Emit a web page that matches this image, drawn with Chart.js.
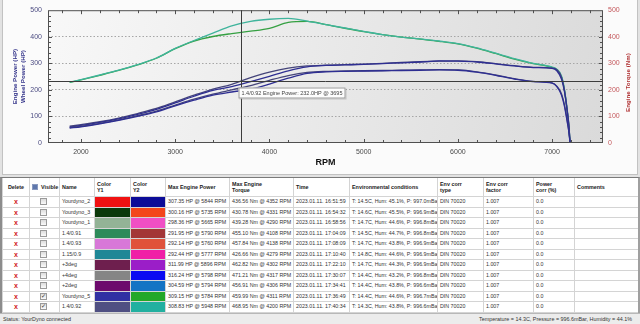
<!DOCTYPE html>
<html>
<head>
<meta charset="utf-8">
<title>YourDyno</title>
<script src="https://cdn.jsdelivr.net/npm/chart.js@4.4.1/dist/chart.umd.min.js"></script>
<style>
  body { margin: 0; width: 640px; height: 324px; overflow: hidden; background: #e2e2e2;
         font-family: "Liberation Sans", Arial, sans-serif; position: relative; }
  #chartPanel { position: absolute; left: 2px; top: 0; width: 636px; height: 175px;
                background: #fbfbfb; border: 1px solid #c2c2c2; border-top: none; box-sizing: border-box; }
  #myChart { position: absolute; left: 0; top: 0; }
  #tableWrap { position: absolute; left: 0; top: 177px; width: 640px; height: 136px; background: #fff;
               border-left: 2px solid #8c8c8c; border-right: 2px solid #a0a0a0; border-top: 1px solid #7a7a7a;
               box-sizing: border-box; overflow: hidden; }
  #runTable { border-collapse: collapse; table-layout: fixed; width: 638px; font-size: 5.3px; color: #333; }
  #runTable th, #runTable td { border: 1px solid #d4d4d4; padding: 0 0 0 2px; white-space: nowrap;
                               overflow: hidden; text-align: left; vertical-align: middle; }
  #runTable th { height: 18px; font-weight: bold; font-size: 5.4px; color: #222; line-height: 6.2px; border-top: none; }
  #runTable td { height: 9.5px; line-height: 9px; }
  #runTable .del { text-align: center; color: #d01818; font-weight: bold; font-size: 7px; padding: 0; }
  #runTable th.del { color: #222; font-size: 5.4px; }
  #runTable td.sw { padding: 0; }
  .cb { display: inline-block; width: 5px; height: 5px; border: 1px solid #9a9a9a; vertical-align: middle;
        background: linear-gradient(#dcdcdc, #fafafa); position: relative; margin-left: 10px; }
  .cb.on::after { content: "\2713"; position: absolute; left: 0; top: -2px; font-size: 6px; color: #333; }
  .hcb { display: inline-block; width: 4px; height: 4px; background: #5f78ad; border: 1px solid #8a9ac0;
         vertical-align: middle; margin-right: 3px; }
  #status { position: absolute; left: 0; top: 313px; width: 640px; height: 11px; background: #ececec;
            border-top: 1px solid #b8b8b8; box-sizing: border-box; font-size: 5.4px; color: #333; line-height: 10px; }
  #status .l { position: absolute; left: 3px; }
  #status .r { position: absolute; right: 8px; }
</style>
</head>
<body>
<div id="chartPanel"></div>
<canvas id="myChart" width="640" height="172"></canvas>
<div id="tableWrap">
  <table id="runTable">
    <colgroup>
      <col style="width:27px"><col style="width:30px"><col style="width:35px"><col style="width:36px">
      <col style="width:35px"><col style="width:64px"><col style="width:64px"><col style="width:56px">
      <col style="width:88px"><col style="width:46px"><col style="width:50px"><col style="width:41px">
      <col style="width:66px">
    </colgroup>
    <thead>
      <tr>
        <th class="del">Delete</th><th><span class="hcb"></span>Visible</th><th>Name</th>
        <th>Color<br>Y1</th><th>Color<br>Y2</th><th>Max Engine Power</th><th>Max Engine<br>Torque</th>
        <th>Time</th><th>Environmental conditions</th><th>Env corr<br>type</th><th>Env corr<br>factor</th>
        <th>Power<br>corr (%)</th><th>Comments</th>
      </tr>
    </thead>
    <tbody></tbody>
  </table>
</div>
<div id="status"><span class="l">Status: YourDyno connected</span><span class="r">Temperature = 14.3C, Pressure = 996.6mBar, Humidity = 44.1%</span></div>
<script>
// sweep rpm shared by every plotted run
const rpm = [1880, 2000, 2200, 2400, 2600, 2800, 3000, 3200, 3400, 3600, 3800, 4000, 4200, 4400, 4600, 4800,
             5000, 5200, 5400, 5600, 5800, 6000, 6200, 6400, 6600, 6800, 7000, 7050, 7100, 7130, 7160, 7180, 7190];

// Yourdyno_5
const dyno5EnginePower = [60, 66, 78, 91, 108, 127, 151, 176, 198, 212, 231, 251, 272, 287, 292, 294,
                          296, 299, 302, 305, 309, 308, 305, 298, 290, 284, 281, 272, 240, 195, 120, 55, 0];
const dyno5WheelPower = [56, 61, 72, 85, 100, 117, 140, 161, 180, 192, 203, 222, 244, 262, 268, 270,
                         271, 272, 273, 274, 275, 274, 267, 255, 241, 231, 225, 212, 180, 140, 80, 35, 0];
const dyno5Torque = [228, 238, 255, 273, 294, 319, 355, 384, 401, 412, 421, 432, 454, 458, 446, 432,
                     419, 408, 399, 391, 383, 373, 357, 337, 316, 299, 285, 276, 248, 200, 120, 50, 0];

// 1.4/0.92
const run092EnginePower = [63, 69, 80, 94, 111, 130, 155, 180, 203, 221, 246, 267, 282, 290, 293, 295,
                           297, 300, 303, 306, 308, 309, 306, 299, 291, 285, 282, 276, 248, 200, 125, 60, 0];
const run092WheelPower = [58, 63, 74, 87, 103, 120, 143, 165, 184, 200, 216, 236, 254, 266, 270, 271,
                          272, 273, 274, 275, 276, 275, 268, 256, 242, 232, 226, 214, 185, 145, 85, 38, 0];
const run092Torque = [229, 239, 256, 274, 295, 320, 356, 386, 414, 441, 458, 466, 469, 459, 446, 433,
                      420, 408, 399, 392, 384, 374, 358, 338, 318, 300, 286, 278, 252, 205, 125, 55, 0];

const yTicks = [0, 100, 200, 300, 400, 500];
const rpmTicks = [2000, 3000, 4000, 5000, 6000, 7000];

// cursor readout
const cursorRun = '1.4/0.92';
const cursorRpm = 3695;
const cursorPower = 232.0;

// run list
const runNames = ['Yourdyno_2', 'Yourdyno_3', 'Yourdyno_1', '1.4/0.91', '1.4/0.93', '1.15/0.9', '+3deg', '+4deg', '+2deg', 'Yourdyno_5', '1.4/0.92'];
const runVisible = [false, false, false, false, false, false, false, false, false, true, true];
const colorY1 = ['#f01212', '#0b3a0b', '#93b396', '#2e8b5a', '#d878d8', '#1f8796', '#6e1f4e', '#858585', '#6c0a6c', '#3131a3', '#4f4f82'];
const colorY2 = ['#0c0c98', '#f3461a', '#f04fc4', '#a33636', '#e0523a', '#f01fa6', '#9b1ec8', '#0a0af2', '#1474c4', '#22a828', '#22b0a0'];
const maxPower = ['307.35', '300.16', '298.36', '291.95', '292.14', '292.44', '311.99', '316.24', '304.59', '309.15', '308.83'];
const maxPowerRpm = [5844, 5735, 5665, 5790, 5760, 5777, 5896, 5798, 5794, 5784, 5948];
const maxTorque = ['436.56', '430.78', '439.28', '455.10', '457.84', '426.66', '462.82', '471.21', '456.91', '459.99', '468.95'];
const maxTorqueRpm = [4352, 4331, 4290, 4108, 4138, 4279, 4302, 4317, 4306, 4311, 4200];
const runTimes = ['16:51:59', '16:54:32', '16:58:56', '17:04:09', '17:08:09', '17:10:40', '17:22:10', '17:30:07', '17:34:41', '17:36:49', '17:40:34'];
const envTemp = ['14.5', '14.6', '14.7', '14.5', '14.7', '14.8', '14.7', '14.4', '14.4', '14.4', '14.3'];
const envHum = ['45.1', '45.5', '44.6', '44.7', '43.8', '44.6', '44.3', '43.2', '43.8', '44.6', '43.8'];
const envPress = ['997.0', '996.9', '996.8', '996.8', '996.9', '996.9', '996.9', '996.8', '996.6', '996.7', '996.6'];

const tbody = document.querySelector('#runTable tbody');
runNames.forEach((name, i) => {
    const tr = document.createElement('tr');
    tr.innerHTML = `<td class="del">x</td><td class="sw"><span class="cb${runVisible[i] ? ' on' : ''}"></span></td>` +
        `<td>${name}</td><td class="sw" style="background:${colorY1[i]}"></td><td class="sw" style="background:${colorY2[i]}"></td>` +
        `<td>${maxPower[i]} HP @ ${maxPowerRpm[i]} RPM</td><td>${maxTorque[i]} Nm @ ${maxTorqueRpm[i]} RPM</td>` +
        `<td>2023.01.11. ${runTimes[i]}</td><td>T: ${envTemp[i]}C, Hum: ${envHum[i]}%, P: ${envPress[i]}mBar</td>` +
        `<td>DIN 70020</td><td>1.007</td><td>0.0</td><td></td>`;
    tbody.appendChild(tr);
});

const toPoints = vals => rpm.map((r, i) => ({ x: r, y: vals[i] }));

const line = (label, vals, color, axis) => ({
    label,
    data: toPoints(vals),
    borderColor: color,
    borderWidth: 1.3,
    pointRadius: 0,
    fill: false,
    cubicInterpolationMode: 'monotone',
    yAxisID: axis,
});

const fontFamily = '"Liberation Sans", Arial, sans-serif';

// plot background, frame, inward minor ticks, torque title and the cursor readout
const dynoFrame = {
    id: 'dynoFrame',
    beforeDraw(chart) {
        const { ctx, chartArea: a } = chart;
        const g = ctx.createLinearGradient(a.left, a.top, a.right, a.bottom);
        g.addColorStop(0, '#f8f8f8');
        g.addColorStop(1, '#dadada');
        ctx.save();
        ctx.fillStyle = g;
        ctx.fillRect(a.left, a.top, a.right - a.left, a.bottom - a.top);
        ctx.restore();
    },
    afterDraw(chart) {
        const { ctx, chartArea: a } = chart;
        const xs = chart.scales.x, ys = chart.scales.y;
        ctx.save();
        ctx.strokeStyle = '#505050';
        ctx.lineWidth = 1;
        ctx.strokeRect(a.left + 0.5, a.top + 0.5, a.right - a.left - 1, a.bottom - a.top - 1);
        ctx.beginPath();
        for (let r = 1800; r <= 7400; r += 200) {
            const px = Math.round(xs.getPixelForValue(r)) + 0.5;
            const len = r % 1000 === 0 ? 4 : 3;
            ctx.moveTo(px, a.bottom); ctx.lineTo(px, a.bottom - len);
            ctx.moveTo(px, a.top); ctx.lineTo(px, a.top + len);
        }
        for (let v = 20; v < 500; v += 20) {
            const py = Math.round(ys.getPixelForValue(v)) + 0.5;
            const len = v % 100 === 0 ? 4 : 3;
            ctx.moveTo(a.left, py); ctx.lineTo(a.left + len, py);
            ctx.moveTo(a.right, py); ctx.lineTo(a.right - len, py);
        }
        ctx.stroke();

        // right axis title reads bottom-up like the left one
        ctx.save();
        ctx.translate(a.right + 25, (a.top + a.bottom) / 2 + 6);
        ctx.rotate(-Math.PI / 2);
        ctx.font = `bold 6.2px ${fontFamily}`;
        ctx.fillStyle = '#b03234';
        ctx.textAlign = 'center';
        ctx.textBaseline = 'middle';
        ctx.fillText('Engine Torque (Nm)', 0, 0);
        ctx.restore();

        // cursor cross
        const cx = Math.round(xs.getPixelForValue(cursorRpm)) + 0.5;
        const cy = Math.round(ys.getPixelForValue(cursorPower)) + 0.5;
        ctx.strokeStyle = '#3c3c3c';
        ctx.beginPath();
        ctx.moveTo(a.left, cy); ctx.lineTo(a.right, cy);
        ctx.moveTo(cx, a.top); ctx.lineTo(cx, a.bottom);
        ctx.stroke();

        const text = `${cursorRun} Engine Power: ${cursorPower.toFixed(1)}HP @ ${cursorRpm}`;
        ctx.font = `5.5px ${fontFamily}`;
        const w = Math.ceil(ctx.measureText(text).width) + 6;
        const bx = cx - 3, by = cy + 6;
        ctx.fillStyle = 'rgba(120,120,120,0.35)';
        ctx.fillRect(bx + 1, by + 1, w, 11);
        ctx.fillStyle = '#fdfdfd';
        ctx.fillRect(bx, by, w, 11);
        ctx.strokeStyle = '#9a9a9a';
        ctx.strokeRect(bx + 0.5, by + 0.5, w - 1, 10);
        ctx.fillStyle = '#444';
        ctx.textBaseline = 'middle';
        ctx.fillText(text, bx + 3, by + 6);
        ctx.restore();
    }
};

const tickFont = { family: fontFamily, size: 7 };

new Chart(document.getElementById('myChart'), {
    type: 'line',
    data: {
        datasets: [
            line('Yourdyno_5 Wheel Power', dyno5WheelPower, '#2e2e92', 'y'),
            line('1.4/0.92 Wheel Power', run092WheelPower, '#45457a', 'y'),
            line('Yourdyno_5 Engine Power', dyno5EnginePower, '#2e2e92', 'y'),
            line('1.4/0.92 Engine Power', run092EnginePower, '#45457a', 'y'),
            line('1.4/0.92 Engine Torque', run092Torque, '#3fb49c', 'y2'),
            line('Yourdyno_5 Engine Torque', dyno5Torque, '#35a042', 'y2'),
        ],
    },
    options: {
        responsive: false,
        devicePixelRatio: 1,
        animation: false,
        layout: { padding: { left: 0, right: 0, top: 3, bottom: 0 } },
        plugins: { legend: { display: false }, tooltip: { enabled: false } },
        scales: {
            x: {
                type: 'linear',
                min: 1650,
                max: 7540,
                afterBuildTicks: s => { s.ticks = rpmTicks.map(v => ({ value: v })); },
                afterFit: s => { s.height = 29; },
                ticks: { font: tickFont, color: '#4a4a4a', padding: 5, maxRotation: 0, callback: v => String(v) },
                grid: { display: false, drawTicks: false },
                border: { display: false },
                title: {
                    display: true, text: 'RPM', color: '#111',
                    font: { family: fontFamily, size: 9, weight: 'bold' },
                    padding: { top: 0, bottom: 4 },
                },
            },
            y: {
                position: 'left',
                min: 0,
                max: 500,
                afterBuildTicks: s => { s.ticks = yTicks.map(v => ({ value: v })); },
                afterFit: s => { s.width = 48; },
                ticks: { font: tickFont, color: '#4c4c82', padding: 6 },
                grid: {
                    drawTicks: false,
                    color: c => (c.tick && c.tick.value > 0 && c.tick.value < 500) ? '#a6a6a6' : 'rgba(0,0,0,0)',
                },
                border: { display: false, dash: [1.5, 2] },
                title: {
                    display: true, text: ['Engine Power (HP)', 'Wheel Power (HP)'], color: '#34348a',
                    font: { family: fontFamily, size: 6.2, weight: 'bold', lineHeight: 1.3 },
                    padding: { top: 11, bottom: 0 },
                },
            },
            y2: {
                position: 'right',
                min: 0,
                max: 500,
                afterBuildTicks: s => { s.ticks = yTicks.map(v => ({ value: v })); },
                afterFit: s => { s.width = 37; },
                ticks: { font: tickFont, color: '#c4585c', padding: 5 },
                grid: { display: false, drawTicks: false },
                border: { display: false },
            },
        },
    },
    plugins: [dynoFrame],
});
</script>
</body>
</html>
